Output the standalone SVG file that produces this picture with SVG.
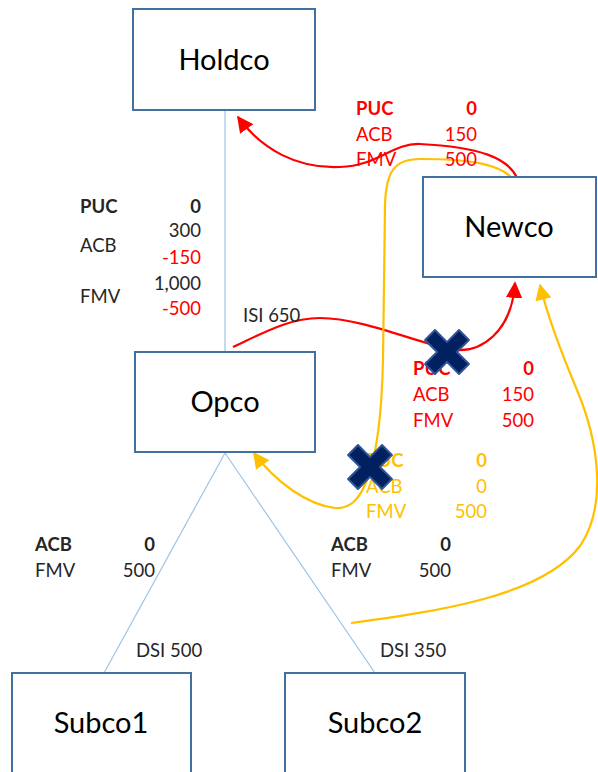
<svg xmlns="http://www.w3.org/2000/svg" width="598" height="772" viewBox="0 0 598 772">
  <style>
    text { font-family: Lato, "Open Sans", "Liberation Sans", sans-serif; }
    .box { fill: #ffffff; stroke: #41719c; stroke-width: 2; }
    .name { font-size: 29px; fill: #000000; text-anchor: middle; }
    .lbl { font-size: 18.5px; fill: #262626; }
    .b { font-weight: bold; }
    .r { text-anchor: end; }
    .red { fill: #ff0000; }
    .yel { fill: #ffc000; }
    .tree { stroke: #9dc3e6; stroke-width: 1.2; fill: none; }
    .flow-red { stroke: #ff0000; stroke-width: 2.2; fill: none; }
    .flow-yel { stroke: #ffc000; stroke-width: 2.2; fill: none; }
    .cross { fill: #002060; stroke: #2f5597; stroke-width: 2; stroke-linejoin: round; }
  </style>
  <defs>
    <marker id="headRed" viewBox="0 0 10 10" refX="9" refY="5" markerWidth="7.5" markerHeight="7.5" markerUnits="strokeWidth" orient="auto">
      <path d="M0,0 L10,5 L0,10 z" fill="#ff0000"/>
    </marker>
    <marker id="headYel" viewBox="0 0 10 10" refX="9" refY="5" markerWidth="7.5" markerHeight="7.5" markerUnits="strokeWidth" orient="auto">
      <path d="M0,0 L10,5 L0,10 z" fill="#ffc000"/>
    </marker>
    <path id="xmark" d="M-7,-24 L7,-24 L7,-7 L24,-7 L24,7 L7,7 L7,24 L-7,24 L-7,7 L-24,7 L-24,-7 L-7,-7 Z" transform="rotate(45)"/>
  </defs>

  <!-- ownership lines -->
  <g id="connectors">
    <line class="tree" x1="225" y1="110" x2="225" y2="351"/>
    <line class="tree" x1="225" y1="453" x2="104" y2="673"/>
    <line class="tree" x1="225" y1="453" x2="375" y2="673"/>

    <!-- share transfers -->
    <path class="flow-red" d="M517,178 C508,158 480,147 420,144 C392,143 378,166 340,167 C298,169 262,150 238,117" marker-end="url(#headRed)"/>
    <path class="flow-red" d="M233,347 C265,332 290,318 320,318 C360,318 410,340 448,349 C482,356 512,330 515,283" marker-end="url(#headRed)"/>
    <path class="flow-yel" d="M513,179 C500,164 470,159 420,159 C394,159 386,172 385,205 L383,360 C382,405 378,450 368,477 C360,500 350,509 335,508 C308,505 275,482 254,453" marker-end="url(#headYel)"/>
    <path class="flow-yel" d="M351,623 C440,611 542,596 580,546 C608,505 598,440 577,390 C561,352 548,318 540,285" marker-end="url(#headYel)"/>
  </g>

  <g id="holdco">
    <rect class="box" x="133" y="9" width="182" height="101"/>
    <text class="name" x="224" y="70">Holdco</text>
  </g>
  <g id="newco">
    <rect class="box" x="423" y="177" width="173" height="100"/>
    <text class="name" x="509" y="237">Newco</text>
  </g>
  <g id="opco">
    <rect class="box" x="135" y="352" width="180" height="100"/>
    <text class="name" x="225" y="412">Opco</text>
  </g>
  <g id="subco1">
    <rect class="box" x="12" y="673" width="179" height="110"/>
    <text class="name" x="101" y="733">Subco1</text>
  </g>
  <g id="subco2">
    <rect class="box" x="285" y="673" width="180" height="110"/>
    <text class="name" x="375" y="733">Subco2</text>
  </g>

  <!-- Opco shares held by Holdco -->
  <g id="opco-values">
    <text class="lbl b" x="80" y="213">PUC</text>
    <text class="lbl b r" x="201" y="213">0</text>
    <text class="lbl r" x="201" y="237">300</text>
    <text class="lbl" x="80" y="252">ACB</text>
    <text class="lbl red r" x="201" y="264">-150</text>
    <text class="lbl r" x="201" y="290">1,000</text>
    <text class="lbl" x="80" y="303">FMV</text>
    <text class="lbl red r" x="201" y="315">-500</text>
    <text class="lbl" x="243" y="322">ISI 650</text>
  </g>

  <!-- Newco shares issued to Holdco -->
  <g id="newco-values">
    <text class="lbl b red" x="356" y="115">PUC</text>
    <text class="lbl b red r" x="477" y="115">0</text>
    <text class="lbl red" x="356" y="141">ACB</text>
    <text class="lbl red r" x="477" y="141">150</text>
    <text class="lbl red" x="356" y="166">FMV</text>
    <text class="lbl red r" x="477" y="166">500</text>
  </g>

  <!-- Opco shares transferred to Newco -->
  <g id="transfer-values">
    <text class="lbl b red" x="413" y="375">PUC</text>
    <text class="lbl b red r" x="534" y="375">0</text>
    <text class="lbl red" x="413" y="401">ACB</text>
    <text class="lbl red r" x="534" y="401">150</text>
    <text class="lbl red" x="413" y="427">FMV</text>
    <text class="lbl red r" x="534" y="427">500</text>
  </g>

  <!-- Newco shares issued to Subco2 -->
  <g id="return-values">
    <text class="lbl b yel" x="366" y="467">PUC</text>
    <text class="lbl b yel r" x="487" y="467">0</text>
    <text class="lbl yel" x="366" y="493">ACB</text>
    <text class="lbl yel r" x="487" y="493">0</text>
    <text class="lbl yel" x="366" y="518">FMV</text>
    <text class="lbl yel r" x="487" y="518">500</text>
  </g>

  <g id="subco-values">
    <text class="lbl b" x="35" y="551">ACB</text>
    <text class="lbl b r" x="155" y="551">0</text>
    <text class="lbl" x="35" y="577">FMV</text>
    <text class="lbl r" x="155" y="577">500</text>
    <text class="lbl b" x="331" y="551">ACB</text>
    <text class="lbl b r" x="451" y="551">0</text>
    <text class="lbl" x="331" y="577">FMV</text>
    <text class="lbl r" x="451" y="577">500</text>
    <text class="lbl" x="136" y="657">DSI 500</text>
    <text class="lbl" x="380" y="657">DSI 350</text>
  </g>

  <!-- cancelled steps -->
  <g id="cross-1">
    <use href="#xmark" class="cross" transform="translate(447,352)"/>
  </g>
  <g id="cross-2">
    <use href="#xmark" class="cross" transform="translate(370,467)"/>
  </g>
</svg>
